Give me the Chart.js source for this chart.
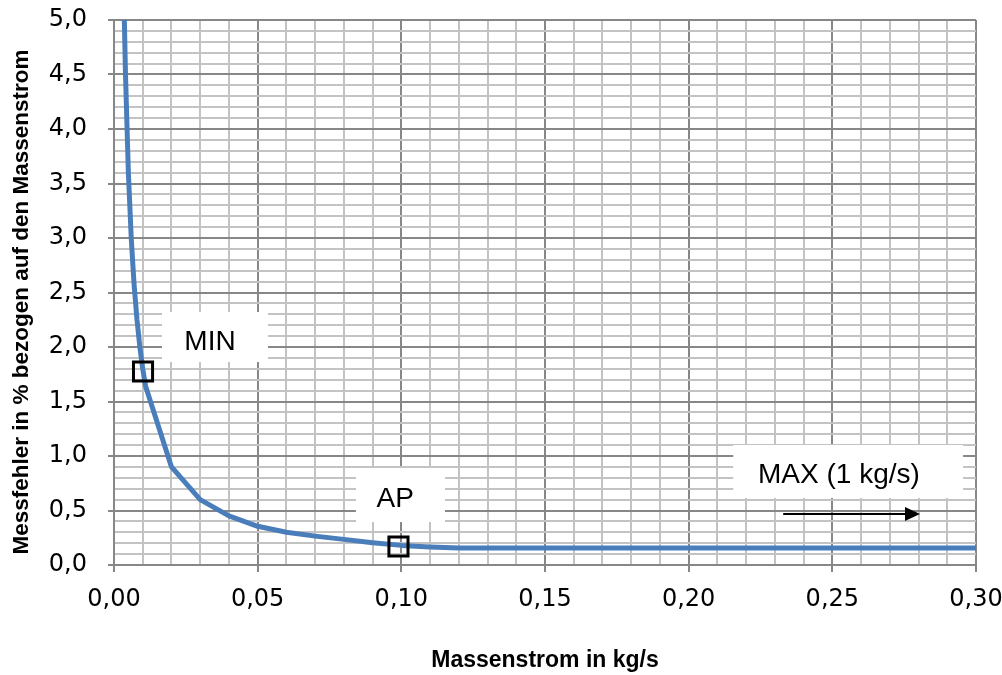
<!DOCTYPE html>
<html><head><meta charset="utf-8">
<script src="https://cdn.jsdelivr.net/npm/chart.js@4.4.1/dist/chart.umd.min.js"></script>
<style>html,body{margin:0;padding:0;background:#fff}#wrap{width:1002px;height:675px}</style>
</head><body><div id="wrap"><canvas id="c" width="1002" height="675"></canvas></div>
<script>
// Data
const massFlow = [0.0036,0.004,0.005,0.006,0.007,0.008,0.009,0.010,0.011,0.02,0.03,0.04,0.05,0.06,0.07,0.08,0.09,0.10,0.11,0.12,0.15,0.20,0.25,0.30];
const errorPct = [5.0,4.5,3.6,3.0,2.57,2.25,2.0,1.8,1.64,0.9,0.6,0.45,0.355,0.30,0.265,0.235,0.205,0.18,0.165,0.155,0.155,0.155,0.155,0.155];
const markerNames = ['MIN','AP'];
const markerX = [0.0101, 0.099];
const markerY = [1.775, 0.17];
const labelTexts = ['MIN','AP','MAX (1 kg/s)'];
const labelTextX = [0.0334, 0.0979, 0.2523];
const labelTextY = [1.972, 0.529, 0.752];
const labelBoxX0 = [0.0167, 0.0842, 0.2155];
const labelBoxX1 = [0.0536, 0.1152, 0.2955];
const labelBoxY0 = [2.321, 0.890, 1.101];
const labelBoxY1 = [1.862, 0.394, 0.615];
const arrowFromX = 0.2329, arrowToX = 0.2805, arrowY = 0.468;
const xTitle = 'Massenstrom in kg/s';
const yTitle = 'Messfehler in % bezogen auf den Massenstrom';

const isMult = (v, s) => Math.abs(v / s - Math.round(v / s)) < 1e-6;
const MAJOR = '#878787', MINOR = '#c3c3c3';

const annPlugin = {
  id: 'ann',
  beforeDatasetsDraw(chart) {
    const { ctx, scales: { x, y } } = chart;
    ctx.save();
    labelTexts.forEach((t, i) => {
      const x0 = x.getPixelForValue(labelBoxX0[i]), x1 = x.getPixelForValue(labelBoxX1[i]);
      const y0 = y.getPixelForValue(labelBoxY0[i]), y1 = y.getPixelForValue(labelBoxY1[i]);
      ctx.fillStyle = '#fff';
      ctx.fillRect(x0, y0, x1 - x0, y1 - y0);
      ctx.fillStyle = '#000';
      ctx.font = '28px "Liberation Sans", Arial, sans-serif';
      ctx.textAlign = 'center';
      ctx.textBaseline = 'alphabetic';
      ctx.fillText(t, x.getPixelForValue(labelTextX[i]), y.getPixelForValue(labelTextY[i]));
    });
    const ax0 = x.getPixelForValue(arrowFromX), ax1 = x.getPixelForValue(arrowToX), ay = y.getPixelForValue(arrowY);
    ctx.strokeStyle = '#000'; ctx.lineWidth = 2;
    ctx.beginPath(); ctx.moveTo(ax0, ay); ctx.lineTo(ax1 - 12, ay); ctx.stroke();
    ctx.fillStyle = '#000';
    ctx.beginPath(); ctx.moveTo(ax1, ay); ctx.lineTo(ax1 - 15, ay - 7); ctx.lineTo(ax1 - 15, ay + 7); ctx.closePath(); ctx.fill();
    ctx.restore();
  },
  afterDraw(chart) {
    const { ctx } = chart;
    ctx.save();
    ctx.translate(22, 302);
    ctx.rotate(-Math.PI / 2);
    ctx.fillStyle = '#000';
    ctx.font = 'bold 22.5px "Liberation Sans", Arial, sans-serif';
    ctx.textAlign = 'center';
    ctx.textBaseline = 'middle';
    ctx.fillText(yTitle, 0, 0);
    ctx.restore();
  }
};

const noPad = s => { s.paddingTop = 0; s.paddingBottom = 0; s.paddingLeft = 0; s.paddingRight = 0; };

new Chart(document.getElementById('c'), {
  type: 'scatter',
  data: {
    datasets: [
      {
        label: 'Punkte',
        data: markerX.map((v, i) => ({ x: v, y: markerY[i] })),
        pointStyle: 'rect', pointRadius: 13.5, borderColor: '#000', borderWidth: 3,
        backgroundColor: 'rgba(0,0,0,0)', showLine: false
      },
      {
        label: 'Messfehler',
        data: massFlow.map((v, i) => ({ x: v, y: errorPct[i] })),
        showLine: true, borderColor: '#4a7ebb', borderWidth: 5, pointRadius: 0,
        tension: 0, fill: false, borderJoinStyle: 'round'
      }
    ]
  },
  options: {
    responsive: false, animation: false,
    layout: { padding: { top: 20, right: 26, left: 0, bottom: 0 } },
    plugins: { legend: { display: false }, tooltip: { enabled: false } },
    scales: {
      x: {
        type: 'linear', min: 0, max: 0.3,
        ticks: {
          stepSize: 0.01, autoSkip: false, maxRotation: 0, minRotation: 0,
          color: '#000', padding: 13,
          font: { family: '"DejaVu Sans", sans-serif', size: 24 },
          callback: v => isMult(v, 0.05) ? v.toFixed(2).replace('.', ',') : ''
        },
        grid: {
          color: c => isMult(c.tick.value, 0.05) ? MAJOR : MINOR,
          tickColor: c => isMult(c.tick.value, 0.05) ? MAJOR : 'rgba(0,0,0,0)',
          lineWidth: 2, tickLength: 7, tickWidth: 2
        },
        border: { display: true, color: MAJOR, width: 2 },
        title: {
          display: true, text: xTitle, color: '#000',
          font: { family: '"Liberation Sans", Arial, sans-serif', size: 23, weight: 'bold' },
          padding: { top: 0, bottom: 1 }
        },
        afterFit: s => { s.height = 110; noPad(s); }
      },
      y: {
        min: 0, max: 5,
        ticks: {
          stepSize: 0.1, autoSkip: false, color: '#000', padding: 21,
          font: { family: '"DejaVu Sans", sans-serif', size: 24 },
          callback: v => isMult(v, 0.5) ? v.toFixed(1).replace('.', ',') : ''
        },
        grid: {
          color: c => isMult(c.tick.value, 0.5) ? MAJOR : MINOR,
          tickColor: c => isMult(c.tick.value, 0.5) ? MAJOR : 'rgba(0,0,0,0)',
          lineWidth: 2, tickLength: 6, tickWidth: 2
        },
        border: { display: true, color: MAJOR, width: 2 },
        title: { display: false },
        afterFit: s => { s.width = 114; noPad(s); }
      }
    }
  },
  plugins: [annPlugin]
});
</script>
</body></html>
